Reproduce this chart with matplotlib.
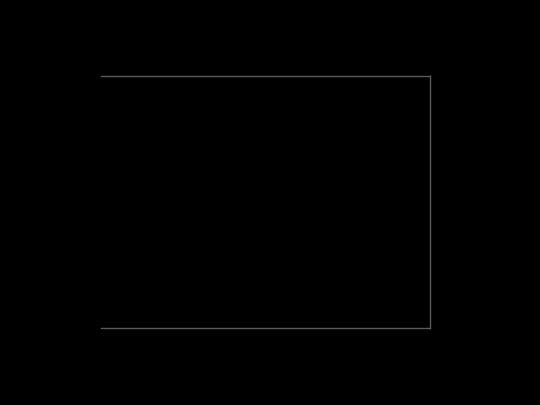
import matplotlib
matplotlib.use("Agg")
import matplotlib.pyplot as plt

# The reference shows an empty plot area (no data marks, no tick labels)
categories = []
values = []

fig = plt.figure(figsize=(5.4, 4.05), dpi=100, facecolor="black")
ax = fig.add_axes([101/540, 1 - 328/405, (430 - 101)/540, (328 - 76)/405])
ax.set_facecolor("black")
ax.plot(categories, values)
ax.set_xticks([])
ax.set_yticks([])
for side in ["top", "right", "bottom"]:
    ax.spines[side].set_color("#5a5a5a")
    ax.spines[side].set_linewidth(1.0)
ax.spines["left"].set_visible(False)

fig.savefig("out.png", dpi=100, facecolor="black")
